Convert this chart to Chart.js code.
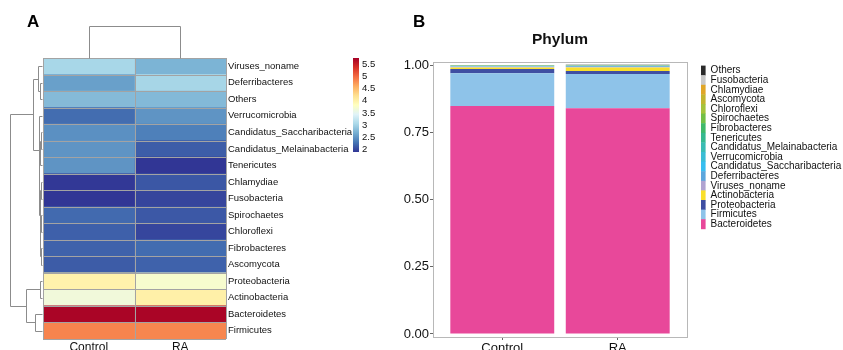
<!DOCTYPE html>
<html>
<head>
<meta charset="utf-8">
<title>Phylum abundance</title>
<script src="https://cdn.jsdelivr.net/npm/chart.js@4.4.1/dist/chart.umd.min.js"></script>
<style>
    html, body { margin: 0; padding: 0; background: #fff; }
    body { position: relative; width: 843px; height: 350px; overflow: hidden; font-family: "Liberation Sans", Arial, sans-serif; }
    #heatmap { position: absolute; left: 0; top: 0; }
    #phylum { position: absolute; left: 380px; top: 0; }
    .panel { position: absolute; font-size: 17px; line-height: 17px; font-weight: bold; color: #000; }
</style>
</head>
<body>
<canvas id="heatmap" width="380" height="350"></canvas>
<canvas id="phylum" width="463" height="350"></canvas>
<div class="panel" style="left:27px; top:13px;">A</div>
<div class="panel" style="left:413px; top:13px;">B</div>

<script>
// ---- data ----
const groups = ['Control', 'RA'];

// panel A: heatmap rows (top to bottom, clustered order)
const heatRows = ['Viruses_noname', 'Deferribacteres', 'Others', 'Verrucomicrobia',
    'Candidatus_Saccharibacteria', 'Candidatus_Melainabacteria', 'Tenericutes', 'Chlamydiae',
    'Fusobacteria', 'Spirochaetes', 'Chloroflexi', 'Fibrobacteres', 'Ascomycota',
    'Proteobacteria', 'Actinobacteria', 'Bacteroidetes', 'Firmicutes'];
const heatControl = [3.04, 2.58, 2.79, 2.24, 2.47, 2.50, 2.50, 1.91, 1.90, 2.22, 2.16, 2.17, 2.13, 3.99, 3.65, 5.72, 4.85];
const heatRA      = [2.73, 3.03, 2.78, 2.50, 2.36, 2.14, 1.90, 2.10, 1.99, 2.11, 2.00, 2.23, 2.17, 3.73, 4.02, 5.72, 4.84];
const colorbarTicks = [2, 2.5, 3, 3.5, 4, 4.5, 5, 5.5];
const colorMin = 1.9;
const colorMax = 5.76;
const heatPalette = ['#313695', '#4575b4', '#74add1', '#abd9e9', '#e0f3f8', '#ffffbf',
    '#fee090', '#fdae61', '#f46d43', '#d73027', '#a50026'];

// dendrograms: [left, right, mergeHeight], leaves are row / column indexes
const rowTree = [
    [[0, [1, 2, 2], 4],
     [3, [[[4, 5, 1.2], 6, 1.8], [[7, 8, 1.4], [[9, 10, 1], [11, 12, 1.2], 1.6], 2.2], 2.6], 3],
     9],
    [[13, 14, 2], [15, 16, 7], 16],
    32];
const colTree = [0, 1, 32];

// panel B: stacked relative abundance (bottom of stack first)
const phylumNames = ['Bacteroidetes', 'Firmicutes', 'Proteobacteria', 'Actinobacteria',
    'Viruses_noname', 'Deferribacteres', 'Candidatus_Saccharibacteria', 'Verrucomicrobia',
    'Candidatus_Melainabacteria', 'Tenericutes', 'Fibrobacteres', 'Spirochaetes',
    'Chloroflexi', 'Ascomycota', 'Chlamydiae', 'Fusobacteria', 'Others'];
const phylumColors = ['#e8489a', '#8ec3e9', '#3f4fa2', '#f9df2b', '#b0a3d1', '#5ba6dd',
    '#37bef0', '#3bbdd5', '#3abcb3', '#36b98f', '#40b96a', '#73bf46', '#a5c33c',
    '#c3b530', '#e0a628', '#c9c9c9', '#2b2b2b'];
const controlAbund = [0.848, 0.121, 0.016, 0.006, 0.0025, 0.0012, 0.0008, 0.0005, 0.0008,
    0.0009, 0.0004, 0.0005, 0.0004, 0.0004, 0.0002, 0.0002, 0.0002];
const raAbund = [0.839, 0.128, 0.011, 0.013, 0.0015, 0.0025, 0.0008, 0.0012, 0.0004,
    0.0002, 0.0006, 0.0004, 0.0003, 0.0004, 0.0003, 0.0003, 0.0008];
const yTicks = [0, 0.25, 0.5, 0.75, 1];

Chart.defaults.font.family = '"Liberation Sans", Arial, sans-serif';
Chart.defaults.color = '#111';

/**
 * Map a heatmap value to the RdYlBu colour ramp
 */
function heatColor(v) {
    const t = Math.min(1, Math.max(0, (v - colorMin) / (colorMax - colorMin)));
    const pos = t * (heatPalette.length - 1);
    const i = Math.min(heatPalette.length - 2, Math.floor(pos));
    const f = pos - i;
    const a = hexToRgb(heatPalette[i]);
    const b = hexToRgb(heatPalette[i + 1]);
    const c = a.map((x, k) => Math.round(x + (b[k] - x) * f));
    return `rgb(${c[0]}, ${c[1]}, ${c[2]})`;
}

function hexToRgb(hex) {
    const n = parseInt(hex.slice(1), 16);
    return [(n >> 16) & 255, (n >> 8) & 255, n & 255];
}

function crisp(v) {
    return Math.round(v) + 0.5;
}

/**
 * Draw a dendrogram; place(leaf) gives the leaf position along the heatmap,
 * level(h) gives the position of a merge at height h
 */
function drawTree(ctx, node, place, level, vertical) {
    if (!Array.isArray(node)) {
        return {pos: place(node), lvl: level(0)};
    }
    const a = drawTree(ctx, node[0], place, level, vertical);
    const b = drawTree(ctx, node[1], place, level, vertical);
    const lvl = level(node[2]);
    ctx.beginPath();
    if (vertical) {
        // rows: branches run horizontally to the left
        ctx.moveTo(crisp(a.lvl), crisp(a.pos));
        ctx.lineTo(crisp(lvl), crisp(a.pos));
        ctx.lineTo(crisp(lvl), crisp(b.pos));
        ctx.lineTo(crisp(b.lvl), crisp(b.pos));
    } else {
        ctx.moveTo(crisp(a.pos), crisp(a.lvl));
        ctx.lineTo(crisp(a.pos), crisp(lvl));
        ctx.lineTo(crisp(b.pos), crisp(lvl));
        ctx.lineTo(crisp(b.pos), crisp(b.lvl));
    }
    ctx.stroke();
    return {pos: (a.pos + b.pos) / 2, lvl: lvl};
}

// cell borders, dendrograms and colour key for the heatmap
const heatmapExtras = {
    id: 'heatmapExtras',
    afterDatasetsDraw(chart) {
        const {ctx, chartArea} = chart;
        const xs = chart.scales.x;
        const ys = chart.scales.y;
        ctx.save();

        // cell borders
        ctx.strokeStyle = '#a3a3a3';
        ctx.lineWidth = 1;
        ctx.beginPath();
        for (let i = 0; i <= heatRows.length; i++) {
            const y = crisp(ys.getPixelForValue(i - 0.5));
            ctx.moveTo(chartArea.left, y);
            ctx.lineTo(chartArea.right, y);
        }
        for (let g = 0; g <= groups.length; g++) {
            const x = crisp(xs.getPixelForValue(g));
            ctx.moveTo(x, chartArea.top);
            ctx.lineTo(x, chartArea.bottom);
        }
        ctx.stroke();

        // dendrograms
        ctx.strokeStyle = '#8c8c8c';
        drawTree(ctx, rowTree, i => ys.getPixelForValue(i), h => chartArea.left - 1 - h, true);
        drawTree(ctx, colTree, g => xs.getPixelForValue(g + 0.5), h => chartArea.top - h, false);

        // colour key
        const keyLeft = chartArea.right + 127;
        const keyWidth = 6;
        const keyTop = chartArea.top;
        const keyBottom = chartArea.top + 94;
        const grad = ctx.createLinearGradient(0, keyBottom, 0, keyTop);
        heatPalette.forEach((c, i) => grad.addColorStop(i / (heatPalette.length - 1), c));
        ctx.fillStyle = grad;
        ctx.fillRect(keyLeft, keyTop, keyWidth, keyBottom - keyTop);

        ctx.fillStyle = '#111';
        ctx.font = '9.5px "Liberation Sans", Arial, sans-serif';
        ctx.textBaseline = 'middle';
        ctx.textAlign = 'left';
        colorbarTicks.forEach(v => {
            const y = keyBottom - (v - colorMin) / (colorMax - colorMin) * (keyBottom - keyTop);
            ctx.fillText(String(v), keyLeft + keyWidth + 3, y);
        });
        ctx.restore();
    }
};

// grey frame round the bar panel
const panelBorder = {
    id: 'panelBorder',
    afterDatasetsDraw(chart) {
        const {ctx, chartArea} = chart;
        ctx.save();
        ctx.strokeStyle = '#b8b8b8';
        ctx.lineWidth = 1;
        ctx.strokeRect(crisp(chartArea.left), crisp(chartArea.top),
            Math.round(chartArea.right - chartArea.left), Math.round(chartArea.bottom - chartArea.top));
        ctx.restore();
    }
};

document.addEventListener('DOMContentLoaded', function() {
    initHeatmap();
    initPhylumChart();
});

/**
 * Panel A: clustered heatmap
 */
function initHeatmap() {
    const values = [heatControl, heatRA];
    new Chart(document.getElementById('heatmap'), {
        type: 'bar',
        data: {
            labels: heatRows,
            datasets: groups.map((g, gi) => ({
                label: g,
                data: heatRows.map(() => 1),
                backgroundColor: values[gi].map(heatColor),
                borderWidth: 0,
                barPercentage: 1,
                categoryPercentage: 1
            }))
        },
        options: {
            indexAxis: 'y',
            responsive: false,
            animation: false,
            events: [],
            layout: { padding: { left: 43, top: 58, right: 0, bottom: 0 } },
            plugins: {
                legend: { display: false },
                tooltip: { enabled: false }
            },
            scales: {
                x: {
                    stacked: true,
                    min: 0,
                    max: groups.length,
                    grid: { display: false, drawTicks: false },
                    border: { display: false },
                    afterBuildTicks: axis => {
                        axis.ticks = groups.map((g, i) => ({ value: i + 0.5 }));
                    },
                    ticks: {
                        padding: 1,
                        font: { size: 12 },
                        color: '#111',
                        callback: (value, index) => groups[index]
                    },
                    afterFit: axis => { axis.height = 11; }
                },
                y: {
                    stacked: true,
                    position: 'right',
                    grid: { display: false, drawTicks: false },
                    border: { display: false },
                    ticks: {
                        autoSkip: false,
                        padding: 2,
                        font: { size: 9.5 },
                        color: '#111'
                    },
                    afterFit: axis => { axis.width = 154; }
                }
            }
        },
        plugins: [heatmapExtras]
    });
}

/**
 * Panel B: stacked bars of relative abundance
 */
function initPhylumChart() {
    const abund = [controlAbund, raAbund];
    new Chart(document.getElementById('phylum'), {
        type: 'bar',
        data: {
            datasets: phylumNames.map((name, k) => ({
                label: name,
                data: groups.map((g, gi) => ({ x: gi + 1, y: abund[gi][k] })),
                backgroundColor: phylumColors[k],
                borderWidth: 0,
                barPercentage: 1,
                categoryPercentage: 0.9
            }))
        },
        options: {
            responsive: false,
            animation: false,
            events: [],
            layout: { padding: { left: 0, top: 0, right: 0, bottom: 0 } },
            plugins: {
                tooltip: { enabled: false },
                title: {
                    display: true,
                    text: 'Phylum',
                    fullSize: false,
                    color: '#111',
                    font: { size: 15.5, weight: 'bold' },
                    padding: { top: 30.5, bottom: 12.9 }
                },
                legend: {
                    position: 'right',
                    align: 'start',
                    fullSize: false,
                    reverse: true,
                    maxWidth: 142,
                    title: { display: true, text: '', padding: 0, font: { size: 4, lineHeight: 1 } },
                    labels: {
                        boxWidth: 5,
                        boxHeight: 10,
                        padding: -0.4,
                        color: '#111',
                        font: { size: 10 }
                    }
                }
            },
            scales: {
                x: {
                    type: 'linear',
                    stacked: true,
                    offset: false,
                    min: 0.4,
                    max: groups.length + 0.6,
                    grid: { display: true, offset: false, drawOnChartArea: false, drawTicks: true, tickLength: 3, color: '#666' },
                    border: { display: false },
                    afterBuildTicks: axis => {
                        axis.ticks = groups.map((g, i) => ({ value: i + 1 }));
                    },
                    ticks: {
                        padding: 1,
                        font: { size: 13 },
                        color: '#111',
                        callback: (value, index) => groups[index]
                    },
                    afterFit: axis => { axis.height = 13; }
                },
                y: {
                    stacked: true,
                    min: -0.0112,
                    max: 1.0112,
                    grid: { display: true, drawOnChartArea: false, drawTicks: true, tickLength: 3, color: '#666' },
                    border: { display: false },
                    afterBuildTicks: axis => {
                        axis.ticks = yTicks.map(v => ({ value: v }));
                    },
                    ticks: {
                        padding: 1,
                        font: { size: 13 },
                        color: '#111',
                        callback: value => value.toFixed(2)
                    },
                    afterFit: axis => { axis.width = 53; }
                },
                gap: {
                    type: 'linear',
                    position: 'right',
                    grid: { display: false },
                    border: { display: false },
                    ticks: { display: false },
                    afterFit: axis => { axis.width = 14; }
                }
            }
        },
        plugins: [panelBorder]
    });
}
</script>
</body>
</html>
